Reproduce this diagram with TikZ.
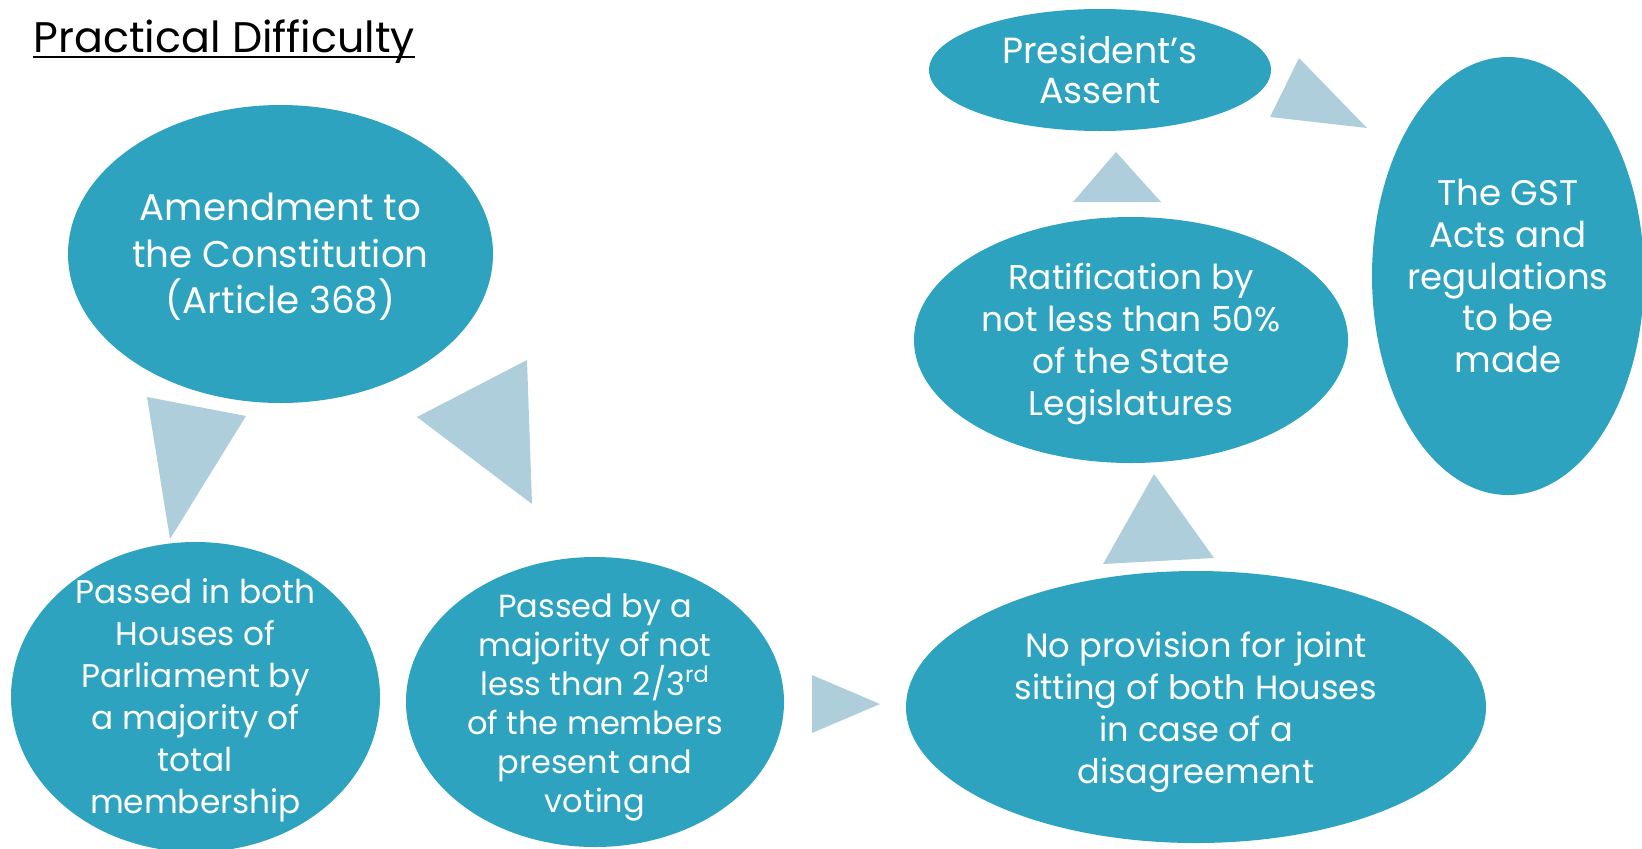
\documentclass[tikz,border=0pt]{standalone}
\usepackage{fontspec}
\setmainfont{Poppins}
\usetikzlibrary{shapes.geometric}
\definecolor{bubblefill}{RGB}{46,163,192}
\definecolor{arrowfill}{RGB}{174,206,220}
\tikzset{
  bubble/.style={ellipse, fill=bubblefill, draw=none, inner sep=0pt},
  bubbletext/.style={text=white, align=center, inner sep=0pt},
  flowarrow/.style={fill=arrowfill, draw=none},
}
\newcommand{\fs}[2]{\fontsize{#1}{#2}\selectfont}
\begin{document}
\begin{tikzpicture}[x=0.5pt, y=-0.5pt]
\useasboundingbox (0,0) rectangle (1642,848);

% title
\node[anchor=base west, inner sep=0pt, font=\fs{21.4pt}{24pt}] (title) at (33,52) {Practical Difficulty};
\draw[line width=1.1pt] (title.base west) ++(0,5) coordinate (ul1) -- (ul1 -| title.base east);

% bubbles
\node[bubble, minimum width=212.5pt, minimum height=149pt] (amend) at (280.5,254) {};
\node[bubble, minimum width=184.5pt, minimum height=155pt] (both) at (195.5,697) {};
\node[bubble, minimum width=189pt, minimum height=145pt] (twothird) at (595,702) {};
\node[bubble, minimum width=290pt, minimum height=136pt] (joint) at (1196,707) {};
\node[bubble, minimum width=217pt, minimum height=123pt] (ratify) at (1131,340) {};
\node[bubble, minimum width=171pt, minimum height=61pt] (assent) at (1100,70) {};
\node[bubble, minimum width=136pt, minimum height=219pt] (gst) at (1508,276) {};

% bubble texts
\node[bubbletext, font=\fs{18.6pt}{23.3pt}] at ([yshift=-1.5pt]amend) {Amendment to\\the Constitution\\(Article 368)};
\node[bubbletext, font=\fs{16.4pt}{21pt}] at ([yshift=-1.5pt]both) {Passed in both\\Houses of\\Parliament by\\a majority of\\total\\membership};
\node[bubbletext, font=\fs{16pt}{19.5pt}] at ([yshift=-2.5pt]twothird) {Passed by a\\majority of not\\less than 2/3\textsuperscript{rd}\\of the members\\present and\\voting};
\node[bubbletext, font=\fs{16.8pt}{21pt}] at ([yshift=-2.5pt]joint) {No provision for joint\\sitting of both Houses\\in case of a\\disagreement};
\node[bubbletext, font=\fs{17.2pt}{20.9pt}] at ([yshift=-2pt]ratify) {Ratification by\\not less than 50\%\\of the State\\Legislatures};
\node[bubbletext, font=\fs{18.2pt}{20pt}] at (assent) {President’s\\Assent};
\node[bubbletext, font=\fs{17.8pt}{20.8pt}] at (gst) {The GST\\Acts and\\regulations\\to be\\made};

% flow arrows between the steps
\fill[flowarrow] (147,397) -- (246,416) -- (170,539) -- cycle;
\fill[flowarrow] (417,417) -- (527,360) -- (532,504) -- cycle;
\fill[flowarrow] (812,675) -- (880,704) -- (812,733) -- cycle;
\fill[flowarrow] (1154,474) -- (1214,558) -- (1103,564) -- cycle;
\fill[flowarrow] (1116,152) -- (1161,202) -- (1073,202) -- cycle;
\fill[flowarrow] (1299,58) -- (1367,128) -- (1270,117) -- cycle;
\end{tikzpicture}
\end{document}
